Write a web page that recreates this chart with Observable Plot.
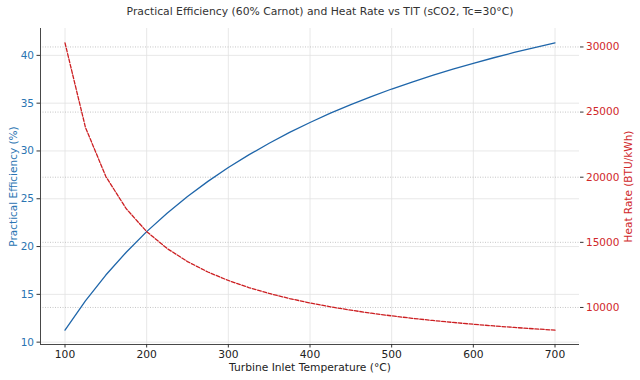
<!DOCTYPE html>
<html><head><meta charset="utf-8">
<script src="https://cdn.jsdelivr.net/npm/d3@7"></script>
<script src="https://cdn.jsdelivr.net/npm/@observablehq/plot@0.6"></script>
<style>
body{margin:0;background:#fff;font-family:"DejaVu Sans",sans-serif}
#title{height:22px;line-height:23px;text-align:center;font-size:10.8px;color:#333;white-space:nowrap}
#chart svg{display:block}
</style></head><body>
<div id="title">Practical Efficiency (60% Carnot) and Heat Rate vs TIT (sCO2, Tc=30°C)</div>
<div id="chart"></div>
<script>
const tit = [100,125,150,175,200,225,250,275,300,325,350,375,400,425,450,475,500,525,550,575,600,625,650,675,700];
const efficiency = [11.26,14.32,17.02,19.41,21.56,23.49,25.23,26.82,28.27,29.59,30.81,31.94,32.98,33.95,34.85,35.69,36.48,37.21,37.90,38.56,39.17,39.75,40.30,40.82,41.31];
const heatRate = [30310,23835,20054,17577,15828,14528,13523,12723,12072,11531,11074,10684,10346,10051,9792,9561,9355,9170,9002,8850,8711,8584,8467,8360,8260];
const xTicks = [100,200,300,400,500,600,700];
const effTicks = [10,15,20,25,30,35,40];
const hrTicks = [10000,15000,20000,25000,30000];
const xDomain = [70,730];
const effDomain = [9.754,42.81];
const hrDomain = [7157,31417];

const toEff = h => effDomain[0] + (h - hrDomain[0]) * (effDomain[1] - effDomain[0]) / (hrDomain[1] - hrDomain[0]);
const toHr = e => hrDomain[0] + (e - effDomain[0]) * (hrDomain[1] - hrDomain[0]) / (effDomain[1] - effDomain[0]);
const rows = tit.map((t, i) => ({t, eff: efficiency[i], hr: heatRate[i]}));

const blue = "#2a74b2", red = "#d0282a";
const plot = Plot.plot({
  width: 640, height: 358,
  marginTop: 6, marginBottom: 36, marginLeft: 40, marginRight: 61,
  style: {fontFamily: "DejaVu Sans", fontSize: "10px", background: "#fff", overflow: "visible"},
  x: {domain: xDomain},
  y: {domain: effDomain},
  marks: [
    Plot.gridX(xTicks, {stroke: "#e2e2e2", strokeOpacity: 1, strokeWidth: 0.8}),
    Plot.gridY(effTicks, {stroke: "#e2e2e2", strokeOpacity: 1, strokeWidth: 0.8}),
    Plot.gridY(hrTicks.map(toEff), {stroke: "#b8b8b8", strokeOpacity: 1, strokeWidth: 0.8, strokeDasharray: "1,1.5"}),
    Plot.ruleY([effDomain[0]], {stroke: "#333", strokeWidth: 0.9}),
    Plot.ruleX([xDomain[0]], {stroke: "#333", strokeWidth: 0.9}),
    Plot.line(rows, {x: "t", y: "eff", stroke: "#1f66aa", strokeWidth: 1.3}),
    Plot.line(rows, {x: "t", y: d => toEff(d.hr), stroke: "#cc1f22", strokeWidth: 1.3, strokeDasharray: "3.8,1.7"}),
    Plot.axisX(xTicks, {anchor: "bottom", tickSize: 3.5, tickPadding: 2, stroke: "#333", fill: "#222",
      label: "Turbine Inlet Temperature (°C)", labelAnchor: "center", labelArrow: "none", labelOffset: 26, fontSize: 10.7}),
    Plot.axisY(effTicks, {anchor: "left", tickSize: 3.5, tickPadding: 3, stroke: "#333", fill: blue,
      label: "Practical Efficiency (%)", labelAnchor: "center", labelArrow: "none", labelOffset: 31, fontSize: 10.5}),
    Plot.axisY(hrTicks.map(toEff), {anchor: "right", tickSize: 3.5, tickPadding: 3, stroke: "#333", fill: red,
      tickFormat: d => String(Math.round(toHr(d) / 100) * 100),
      label: "Heat Rate (BTU/kWh)", labelAnchor: "center", labelArrow: "none", labelOffset: 52, fontSize: 10.5})
  ]
});
document.getElementById("chart").appendChild(plot);
</script>
</body></html>
